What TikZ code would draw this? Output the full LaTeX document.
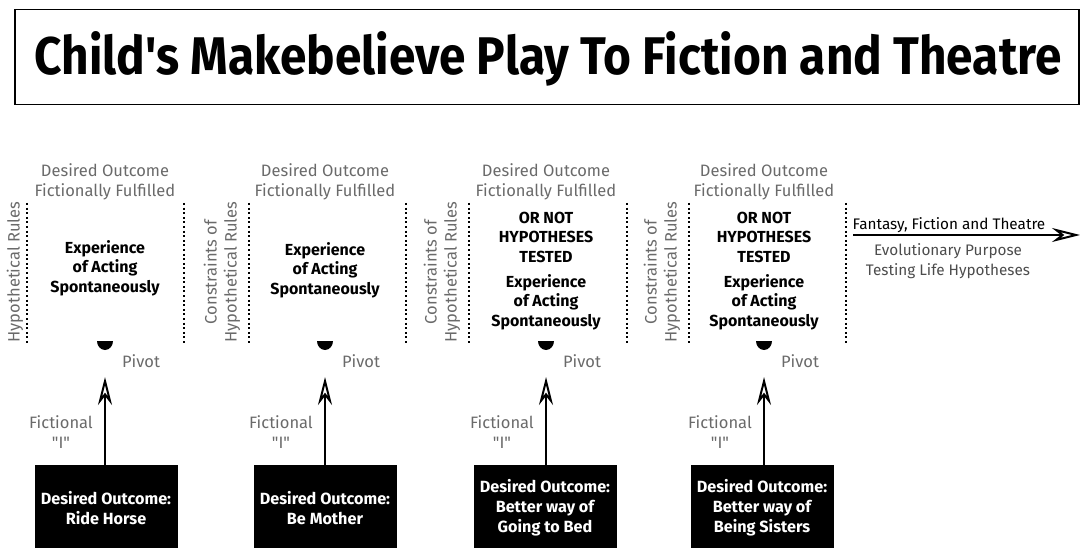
\documentclass[tikz,border=0pt]{standalone}
\usepackage{fontspec}
\setmainfont{Fira Sans}
\usetikzlibrary{arrows.meta}
\definecolor{lbl}{HTML}{6A6A6A}
\begin{document}
\begin{tikzpicture}[x=1pt,y=-1pt,
  graylbl/.style={text=lbl,font=\fontsize{16.5}{20}\selectfont,align=center,inner sep=0pt},
  explbl/.style={font=\bfseries\fontsize{16}{19.5}\selectfont,align=center,inner sep=0pt},
  outbox/.style={fill=black,text=white,font=\bfseries\fontsize{16.2}{20}\selectfont,align=center,minimum width=143pt,minimum height=85pt,inner sep=0pt,anchor=north},
  dotline/.style={line width=2pt,dash pattern=on 2pt off 2.6pt},
  iarrow/.style={line width=2pt,-{Stealth[open,length=28pt,width=14pt,inset=9pt,line width=2pt]}},
]
\useasboundingbox (0,0) rectangle (1082,548);

% title
\node[draw,line width=1.5pt,minimum width=1064pt,minimum height=95pt,anchor=north west,inner sep=0pt] (titlebox) at (14,9) {};
\node[anchor=base,inner sep=0pt] (title) at (548,75)
  {\resizebox{1027pt}{\height}{\fontsize{53}{53}\selectfont\bfseries Child\textquotesingle s Makebelieve Play To Fiction and Theatre}};

% dotted lines
\foreach \i/\x in {1/27,2/184,3/249,4/406,5/469,6/627,7/689,8/846}{
  \coordinate (dt\i) at (\x,203);
  \coordinate (db\i) at (\x,343);
  \draw[dotline] (dt\i) -- (db\i);
}

% rotated labels
\node[graylbl,rotate=90] (rot1) at (15,272) {Hypothetical Rules};
\node[graylbl,rotate=90] (rot2) at (222,272) {Constraints of\\Hypothetical Rules};
\node[graylbl,rotate=90] (rot3) at (442,272) {Constraints of\\Hypothetical Rules};
\node[graylbl,rotate=90] (rot4) at (662,272) {Constraints of\\Hypothetical Rules};

% columns
\foreach \n/\c in {1/105,2/325,3/546,4/764}{
  \node[graylbl] (top\n) at (\c,182) {Desired Outcome\\Fictionally Fulfilled};
  \fill (\c-8,341) arc[start angle=180,end angle=0,x radius=8,y radius=9] -- cycle;
  \coordinate (piv\n) at (\c,341);
  \node[graylbl] (pivlbl\n) at (\c+36,361) {Pivot};
  \node[graylbl] (fic\n) at (\c-44,432) {Fictional\\\textquotedbl I\textquotedbl};
  \coordinate (tip\n) at (\c,377);
}

\node[explbl] (exp1) at (105,268) {Experience\\of Acting\\Spontaneously};
\node[explbl] (exp2) at (325,270) {Experience\\of Acting\\Spontaneously};
\node[explbl] (hyp3) at (546,237) {OR NOT\\HYPOTHESES\\TESTED};
\node[explbl] (exp3) at (546,302) {Experience\\of Acting\\Spontaneously};
\node[explbl] (hyp4) at (764,237) {OR NOT\\HYPOTHESES\\TESTED};
\node[explbl] (exp4) at (764,302) {Experience\\of Acting\\Spontaneously};

% outcome boxes
\node[outbox] (box1) at (106,465) {Desired Outcome:\\Ride Horse};
\node[outbox] (box2) at (325,465) {Desired Outcome:\\Be Mother};
\node[outbox] (box3) at (545,465) {Desired Outcome:\\Better way of\\Going to Bed};
\node[outbox] (box4) at (762,465) {Desired Outcome:\\Better way of\\Being Sisters};

\draw[iarrow] (box1.north -| tip1) -- (tip1);
\draw[iarrow] (box2.north -| tip2) -- (tip2);
\draw[iarrow] (box3.north -| tip3) -- (tip3);
\draw[iarrow] (box4.north -| tip4) -- (tip4);

% right side
\coordinate (rs) at (853,235);
\coordinate (re) at (1080,235);
\draw[iarrow] (rs) -- (re);
\node[font=\fontsize{15.3}{18}\selectfont,inner sep=0pt,anchor=base] (fant) at (949,230) {Fantasy, Fiction and Theatre};
\node[graylbl,text=black!70,font=\fontsize{15.3}{19.5}\selectfont] (evo) at (948,261) {Evolutionary Purpose\\Testing Life Hypotheses};
\end{tikzpicture}
\end{document}
